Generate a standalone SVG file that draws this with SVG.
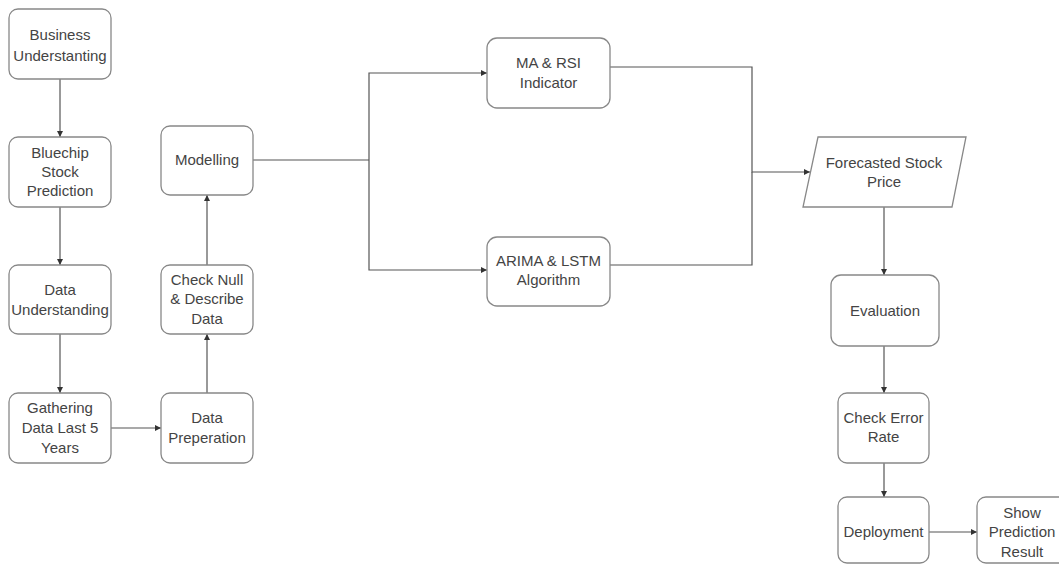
<svg xmlns="http://www.w3.org/2000/svg" width="1059" height="565" viewBox="0 0 1059 565">
<style>
.box{fill:#fff;stroke:#888;stroke-width:1.3}
.t{font-family:"Liberation Sans",Arial,sans-serif;font-size:15px;fill:#444;text-anchor:middle}
.c{fill:none;stroke:#555;stroke-width:1.2}
</style>
<defs>
<marker id="ah" markerUnits="userSpaceOnUse" markerWidth="7" markerHeight="7" refX="6" refY="3" orient="auto">
<path d="M0,0 L6,3 L0,6 z" fill="#333"/>
</marker>
</defs>
<rect width="1059" height="565" fill="#fff"/>
<g id="connectors">
<path class="c" d="M60,79 V137" marker-end="url(#ah)"/>
<path class="c" d="M60,207 V265" marker-end="url(#ah)"/>
<path class="c" d="M60,334 V393" marker-end="url(#ah)"/>
<path class="c" d="M111,428 H161" marker-end="url(#ah)"/>
<path class="c" d="M207,393 V334" marker-end="url(#ah)"/>
<path class="c" d="M207,265 V195" marker-end="url(#ah)"/>
<path class="c" d="M253,160 H369"/>
<path class="c" d="M369,160 V73 H487" marker-end="url(#ah)"/>
<path class="c" d="M369,160 V270 H487" marker-end="url(#ah)"/>
<path class="c" d="M610,67 H752 V172 H810" marker-end="url(#ah)"/>
<path class="c" d="M610,265 H752 V172"/>
<path class="c" d="M884,207 V275" marker-end="url(#ah)"/>
<path class="c" d="M884,346 V393" marker-end="url(#ah)"/>
<path class="c" d="M884,463 V497" marker-end="url(#ah)"/>
<path class="c" d="M929,532 H977" marker-end="url(#ah)"/>
</g>
<g id="business">
<rect class="box" x="9" y="9" width="102" height="70" rx="9"/>
<text class="t" x="60" y="40">Business</text>
<text class="t" x="60" y="61">Understanting</text>
</g>
<g id="bluechip">
<rect class="box" x="9" y="137" width="102" height="70" rx="9"/>
<text class="t" x="60" y="158">Bluechip</text>
<text class="t" x="60" y="177">Stock</text>
<text class="t" x="60" y="196">Prediction</text>
</g>
<g id="dataund">
<rect class="box" x="9" y="265" width="102" height="69" rx="9"/>
<text class="t" x="60" y="295">Data</text>
<text class="t" x="60" y="315">Understanding</text>
</g>
<g id="gathering">
<rect class="box" x="9" y="393" width="102" height="70" rx="9"/>
<text class="t" x="60" y="413">Gathering</text>
<text class="t" x="60" y="433">Data Last 5</text>
<text class="t" x="60" y="453">Years</text>
</g>
<g id="modelling">
<rect class="box" x="161" y="126" width="92" height="69" rx="9"/>
<text class="t" x="207" y="165">Modelling</text>
</g>
<g id="checknull">
<rect class="box" x="161" y="265" width="92" height="69" rx="9"/>
<text class="t" x="207" y="285">Check Null</text>
<text class="t" x="207" y="304">&amp; Describe</text>
<text class="t" x="207" y="324">Data</text>
</g>
<g id="dataprep">
<rect class="box" x="161" y="393" width="92" height="70" rx="9"/>
<text class="t" x="207" y="423">Data</text>
<text class="t" x="207" y="443">Preperation</text>
</g>
<g id="mrsi">
<rect class="box" x="487" y="38" width="123" height="70" rx="10"/>
<text class="t" x="548.5" y="68">MA &amp; RSI</text>
<text class="t" x="548.5" y="88">Indicator</text>
</g>
<g id="arima">
<rect class="box" x="487" y="237" width="123" height="69" rx="10"/>
<text class="t" x="548.5" y="266">ARIMA &amp; LSTM</text>
<text class="t" x="548.5" y="285">Algorithm</text>
</g>
<g id="forecast">
<polygon class="box" points="818,137 966,137 952,207 803,207"/>
<text class="t" x="884" y="168">Forecasted Stock</text>
<text class="t" x="884" y="187">Price</text>
</g>
<g id="evaluation">
<rect class="box" x="831" y="275" width="108" height="71" rx="10"/>
<text class="t" x="885" y="316">Evaluation</text>
</g>
<g id="checkerror">
<rect class="box" x="838" y="393" width="91" height="70" rx="9"/>
<text class="t" x="883.5" y="423">Check Error</text>
<text class="t" x="883.5" y="442">Rate</text>
</g>
<g id="deployment">
<rect class="box" x="838" y="497" width="91" height="66" rx="9"/>
<text class="t" x="883.5" y="537">Deployment</text>
</g>
<g id="show">
<rect class="box" x="977" y="497" width="91" height="66" rx="9"/>
<text class="t" x="1022" y="518">Show</text>
<text class="t" x="1022" y="537">Prediction</text>
<text class="t" x="1022" y="557">Result</text>
</g>
</svg>
